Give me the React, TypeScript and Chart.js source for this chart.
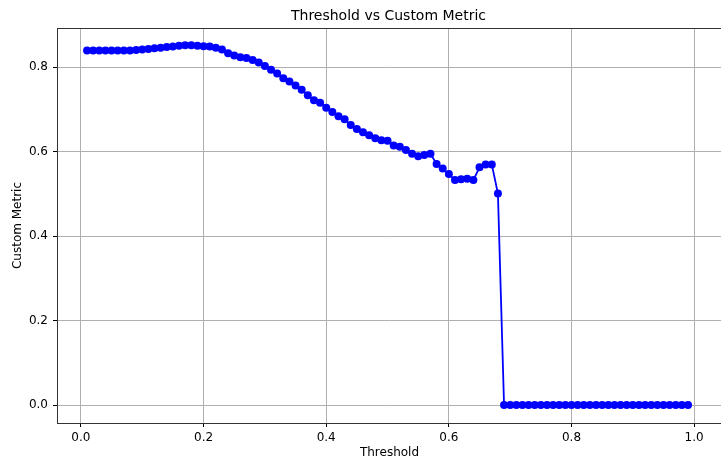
import React, { useEffect, useRef } from "react";
import { Chart, registerables } from "chart.js";

Chart.register(...registerables);

const thresholds = [
  0.01, 0.02, 0.03, 0.04, 0.05, 0.06, 0.07, 0.08, 0.09, 0.1,
  0.11, 0.12, 0.13, 0.14, 0.15, 0.16, 0.17, 0.18, 0.19, 0.2,
  0.21, 0.22, 0.23, 0.24, 0.25, 0.26, 0.27, 0.28, 0.29, 0.3,
  0.31, 0.32, 0.33, 0.34, 0.35, 0.36, 0.37, 0.38, 0.39, 0.4,
  0.41, 0.42, 0.43, 0.44, 0.45, 0.46, 0.47, 0.48, 0.49, 0.5,
  0.51, 0.52, 0.53, 0.54, 0.55, 0.56, 0.57, 0.58, 0.59, 0.6,
  0.61, 0.62, 0.63, 0.64, 0.65, 0.66, 0.67, 0.68, 0.69, 0.7,
  0.71, 0.72, 0.73, 0.74, 0.75, 0.76, 0.77, 0.78, 0.79, 0.8,
  0.81, 0.82, 0.83, 0.84, 0.85, 0.86, 0.87, 0.88, 0.89, 0.9,
  0.91, 0.92, 0.93, 0.94, 0.95, 0.96, 0.97, 0.98, 0.99,
];

const customMetric = [
  0.840, 0.840, 0.840, 0.840, 0.840, 0.840, 0.840, 0.840, 0.841, 0.842,
  0.843, 0.845, 0.846, 0.848, 0.849, 0.851, 0.852, 0.852, 0.851, 0.850,
  0.849, 0.846, 0.842, 0.833, 0.828, 0.824, 0.822, 0.817, 0.811, 0.803,
  0.794, 0.785, 0.774, 0.766, 0.757, 0.747, 0.734, 0.722, 0.716, 0.704,
  0.694, 0.684, 0.677, 0.663, 0.654, 0.646, 0.639, 0.632, 0.627, 0.626,
  0.615, 0.612, 0.604, 0.595, 0.589, 0.592, 0.595, 0.571, 0.560, 0.547,
  0.533, 0.535, 0.536, 0.533, 0.563, 0.570, 0.570, 0.501, 0, 0,
  0, 0, 0, 0, 0, 0, 0, 0, 0, 0,
  0, 0, 0, 0, 0, 0, 0, 0, 0, 0,
  0, 0, 0, 0, 0, 0, 0, 0, 0,
];

const xTickValues = [0, 0.2, 0.4, 0.6, 0.8, 1.0];
const yTickValues = [0, 0.2, 0.4, 0.6, 0.8];

const chartTitle = "Threshold vs Custom Metric";
const xAxisLabel = "Threshold";
const yAxisLabel = "Custom Metric";

const FONT = "'DejaVu Sans', sans-serif";

export default function App() {
  const canvasRef = useRef<HTMLCanvasElement | null>(null);

  useEffect(() => {
    const canvas = canvasRef.current;
    if (!canvas) return;

    const points = thresholds.map((t, i) => ({ x: t, y: customMetric[i] }));

    const framePlugin = {
      id: "framePlugin",
      afterDraw(chart: any) {
        const { ctx, chartArea } = chart;
        const { left, top, right, bottom } = chartArea;
        ctx.save();
        ctx.strokeStyle = "#333333";
        ctx.lineWidth = 1;
        ctx.strokeRect(
          Math.round(left) + 0.5,
          Math.round(top) + 0.5,
          Math.round(right - left),
          Math.round(bottom - top)
        );
        ctx.fillStyle = "#000000";
        ctx.font = `14px ${FONT}`;
        ctx.textAlign = "center";
        ctx.textBaseline = "middle";
        ctx.fillText(chartTitle, 388.5, 16);
        ctx.restore();
      },
    };

    const chart = new Chart(canvas, {
      type: "line",
      data: {
        datasets: [
          {
            data: points,
            borderColor: "#0000ff",
            backgroundColor: "#0000ff",
            borderWidth: 1.8,
            pointRadius: 4,
            pointHoverRadius: 4,
            pointBorderWidth: 0,
            pointBackgroundColor: "#0000ff",
            tension: 0,
            fill: false,
          },
        ],
      },
      options: {
        animation: false,
        responsive: false,
        devicePixelRatio: 1,
        layout: { padding: { top: 28, left: 0, right: 1, bottom: 0 } },
        plugins: {
          legend: { display: false },
          title: { display: false },
          tooltip: { enabled: false },
        },
        scales: {
          x: {
            type: "linear",
            min: -0.039,
            max: 1.0454,
            afterBuildTicks: (scale: any) => {
              scale.ticks = xTickValues.map((v) => ({ value: v }));
            },
            afterFit: (scale: any) => {
              scale.height = 40;
              scale.paddingLeft = 0;
              scale.paddingRight = 0;
            },
            ticks: {
              autoSkip: false,
              maxRotation: 0,
              padding: 4,
              color: "#000000",
              font: { family: FONT, size: 12 },
              callback: (v: any) => Number(v).toFixed(1),
            },
            grid: {
              color: "#b0b0b0",
              lineWidth: 1,
              drawTicks: true,
              tickLength: 4,
              tickColor: "#000000",
            },
            border: { display: false },
            title: {
              display: true,
              text: xAxisLabel,
              color: "#000000",
              font: { family: FONT, size: 12 },
              padding: { top: 0, bottom: 3 },
            },
          },
          y: {
            type: "linear",
            min: -0.0425,
            max: 0.893,
            afterBuildTicks: (scale: any) => {
              scale.ticks = yTickValues.map((v) => ({ value: v }));
            },
            afterFit: (scale: any) => {
              scale.width = 57;
              scale.paddingTop = 0;
              scale.paddingBottom = 0;
            },
            ticks: {
              autoSkip: false,
              padding: 5,
              color: "#000000",
              font: { family: FONT, size: 12 },
              callback: (v: any) => Number(v).toFixed(1),
            },
            grid: {
              color: "#b0b0b0",
              lineWidth: 1,
              drawTicks: true,
              tickLength: 4,
              tickColor: "#000000",
            },
            border: { display: false },
            title: {
              display: true,
              text: yAxisLabel,
              color: "#000000",
              font: { family: FONT, size: 12 },
              padding: { top: 11, bottom: 0 },
            },
          },
        },
      },
      plugins: [framePlugin],
    });

    return () => {
      chart.destroy();
    };
  }, []);

  return (
    <div
      style={{
        position: "absolute",
        left: 0,
        top: 0,
        width: 721,
        height: 463,
        overflow: "hidden",
        background: "#ffffff",
      }}
    >
      <canvas ref={canvasRef} width={726} height={463} style={{ display: "block" }} />
    </div>
  );
}
